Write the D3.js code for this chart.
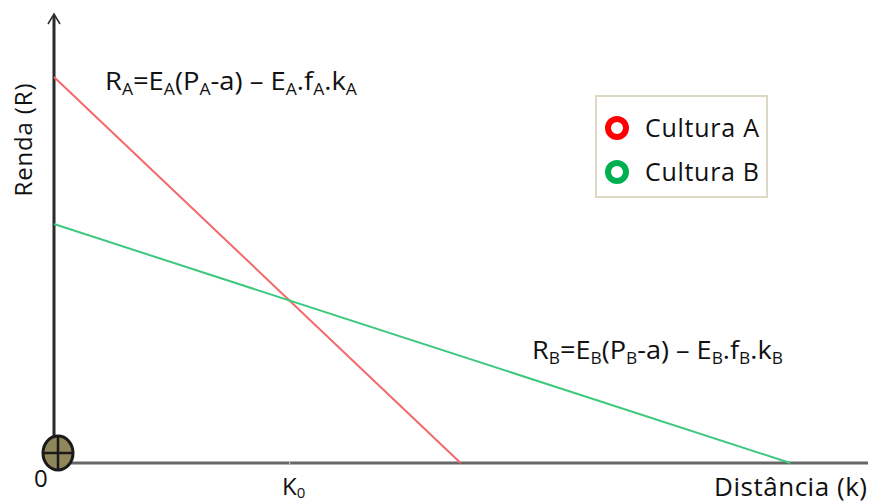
<!DOCTYPE html>
<html>
<head>
<meta charset="utf-8">
<script src="https://cdn.jsdelivr.net/npm/d3@7"></script>
<style>
  body { margin: 0; background: #fff; }
  text { font-family: "Open Sans", sans-serif; fill: #111; }
</style>
</head>
<body>
<script>
// rent lines: intercept on R axis and on distance axis
const cultures = ["Cultura A", "Cultura B"];
const rentAtZero = [85.8, 53.1];
const maxDistance = [50.2, 90.9];
const lineColors = ["#f4686a", "#3cc97c"];
const legendColors = ["#ff0000", "#00b050"];
const k0Value = 29.1;

const width = 870, height = 504;

const svg = d3.select('body')
    .append('svg')
    .attr('width', width)
    .attr('height', height);

const x_scale = d3.scaleLinear().domain([0, 100]).range([54, 864]);
const y_scale = d3.scaleLinear().domain([0, 100]).range([463, 13]);

const line_data = cultures.map((c, i) => ({
    name: c,
    pts: [[0, rentAtZero[i]], [maxDistance[i], 0]],
    color: lineColors[i]
}));

const line = d3.line()
    .x(d => x_scale(d[0]))
    .y(d => y_scale(d[1]));

// axes
svg.append('line')
    .attr('x1', x_scale(0)).attr('x2', x_scale(0))
    .attr('y1', y_scale(0)).attr('y2', 16)
    .attr('stroke', '#2b2b2b').attr('stroke-width', 3);
svg.append('path')
    .attr('d', 'M' + (x_scale(0) - 6) + ',24 L' + x_scale(0) + ',14 L' + (x_scale(0) + 6) + ',24')
    .attr('fill', 'none').attr('stroke', '#2b2b2b').attr('stroke-width', 1.5);

svg.append('line')
    .attr('x1', x_scale(0)).attr('x2', 868)
    .attr('y1', y_scale(0)).attr('y2', y_scale(0))
    .attr('stroke', '#666').attr('stroke-width', 3);

// tick at K0
svg.append('line')
    .attr('x1', x_scale(k0Value)).attr('x2', x_scale(k0Value))
    .attr('y1', y_scale(0) - 1).attr('y2', y_scale(0) + 1)
    .attr('stroke', '#ddd').attr('stroke-width', 1);

// rent lines
svg.selectAll('path.rent')
    .data(line_data)
    .enter()
    .append('path')
    .attr('class', 'rent')
    .attr('d', d => line(d.pts))
    .attr('fill', 'none')
    .attr('stroke', d => d.color)
    .attr('stroke-width', 2);

// origin marker
const ox = x_scale(0) + 4, oy = y_scale(0) - 10;
svg.append('ellipse')
    .attr('cx', ox).attr('cy', oy)
    .attr('rx', 15).attr('ry', 17)
    .attr('fill', '#8f875a').attr('stroke', '#1a1a1a').attr('stroke-width', 3);
svg.append('line')
    .attr('x1', ox - 14).attr('x2', ox + 14).attr('y1', oy).attr('y2', oy)
    .attr('stroke', '#1a1a1a').attr('stroke-width', 2.5);
svg.append('line')
    .attr('x1', ox).attr('x2', ox).attr('y1', oy - 16).attr('y2', oy + 16)
    .attr('stroke', '#1a1a1a').attr('stroke-width', 2.5);

// axis labels
svg.append('text')
    .attr('x', 34).attr('y', 487)
    .attr('font-size', 24)
    .text('0');

const k0 = svg.append('text')
    .attr('x', 282).attr('y', 495)
    .attr('font-size', 24);
k0.append('tspan').text('K');
k0.append('tspan').attr('dy', 3).attr('font-size', 15).text('0');

svg.append('text')
    .attr('x', 867).attr('y', 496)
    .attr('text-anchor', 'end')
    .attr('font-size', 26)
    .attr('textLength', 153)
    .text('Distância (k)');

svg.append('text')
    .attr('transform', 'translate(32,140) rotate(-90)')
    .attr('text-anchor', 'middle')
    .attr('font-size', 24)
    .attr('textLength', 113)
    .text('Renda (R)');

// formulas
function formula(x, y, sub, len) {
    const parts = ['R', '=E', '(P', '-a) \u2013 E', '.f', '.k'];
    const t = svg.append('text')
        .attr('x', x).attr('y', y)
        .attr('font-size', 25);
    parts.forEach((p, i) => {
        t.append('tspan').attr('dy', i === 0 ? 0 : -5).text(p);
        t.append('tspan').attr('dy', 5).attr('font-size', 16).text(sub);
    });
    const w = t.node().getComputedTextLength();
    t.attr('transform', 'translate(' + x + ',0) scale(' + (len / w) + ',1) translate(' + (-x) + ',0)');
}
formula(105, 90, 'A', 252);
formula(532, 359, 'B', 251);

// legend
const legend = svg.append('g');
legend.append('rect')
    .attr('x', 596).attr('y', 96)
    .attr('width', 171).attr('height', 101)
    .attr('fill', '#fff')
    .attr('stroke', '#ddd8c4').attr('stroke-width', 2);

const items = legend.selectAll('g.item')
    .data(cultures)
    .enter()
    .append('g')
    .attr('class', 'item')
    .attr('transform', (d, i) => 'translate(617,' + (128 + i * 44) + ')');
items.append('circle')
    .attr('r', 9)
    .attr('fill', 'none')
    .attr('stroke', (d, i) => legendColors[i])
    .attr('stroke-width', 6);
items.append('text')
    .attr('x', 28).attr('y', 9)
    .attr('font-size', 25)
    .attr('textLength', 114)
    .text(d => d);
</script>
</body>
</html>
